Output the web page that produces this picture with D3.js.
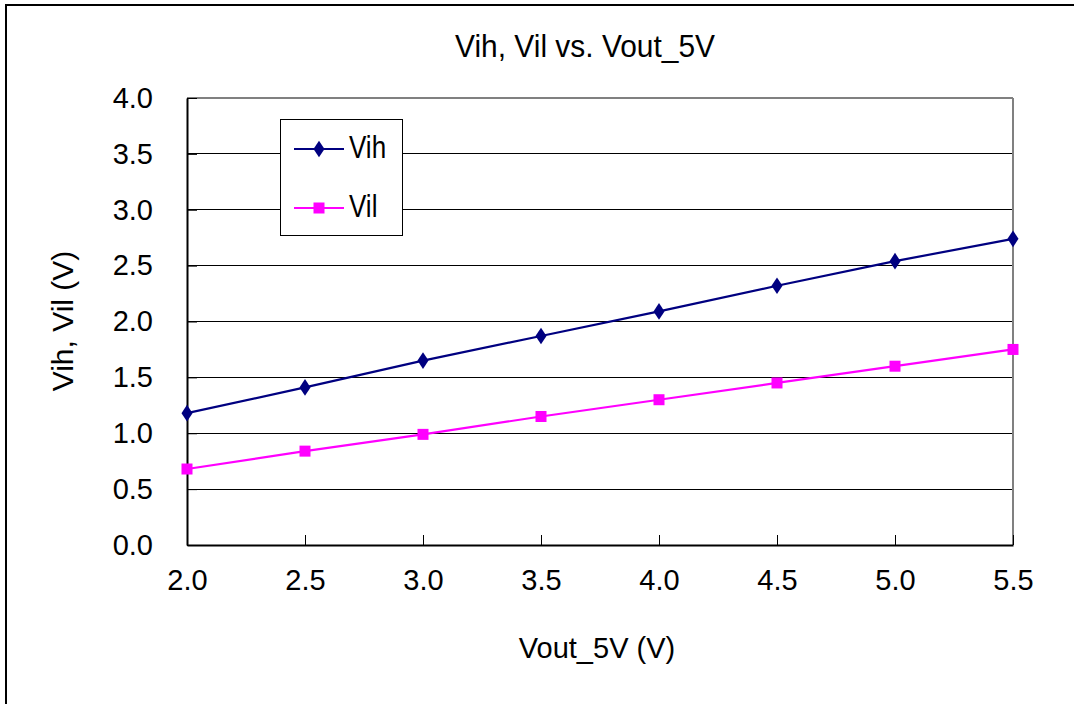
<!DOCTYPE html>
<html>
<head>
<meta charset="utf-8">
<script src="https://cdn.jsdelivr.net/npm/d3@7"></script>
<style>
  html, body { margin: 0; padding: 0; background: #fff; }
  svg { display: block; font-family: "Liberation Sans", Arial, sans-serif; }
</style>
</head>
<body>
<svg id="chart" width="1074" height="704"></svg>
<script>
const vout = [2.0, 2.5, 3.0, 3.5, 4.0, 4.5, 5.0, 5.5];
const vih = [1.18, 1.41, 1.65, 1.87, 2.09, 2.32, 2.54, 2.74];
const vil = [0.68, 0.84, 0.99, 1.15, 1.30, 1.45, 1.60, 1.75];
const xTicks = [2.0, 2.5, 3.0, 3.5, 4.0, 4.5, 5.0, 5.5];
const yTicks = [0.0, 0.5, 1.0, 1.5, 2.0, 2.5, 3.0, 3.5, 4.0];
const seriesNames = ["Vih", "Vil"];
const titleText = "Vih, Vil vs. Vout_5V";
const xTitle = "Vout_5V (V)";
const yTitle = "Vih, Vil (V)";

const svg = d3.select("#chart");
const L = 187, R = 1013, T = 98, B = 545;
const x = d3.scaleLinear().domain([2, 5.5]).range([L, R]);
const y = d3.scaleLinear().domain([0, 4]).range([B, T]);

// outer frame
svg.append("rect").attr("x", 6).attr("y", 5).attr("width", 1200).attr("height", 900)
  .attr("fill", "#fff").attr("stroke", "#000").attr("stroke-width", 2);

// gridlines
svg.append("g").selectAll("line").data(yTicks.filter(d => d > 0 && d < 4)).join("line")
  .attr("x1", L).attr("x2", R).attr("y1", d => y(d)).attr("y2", d => y(d))
  .attr("stroke", "#000").attr("stroke-width", 1).attr("shape-rendering", "crispEdges");

// top & right border grey
svg.append("line").attr("x1", L).attr("x2", R).attr("y1", T).attr("y2", T)
  .attr("stroke", "#808080").attr("stroke-width", 2).attr("shape-rendering", "crispEdges");
svg.append("line").attr("x1", R).attr("x2", R).attr("y1", T).attr("y2", B)
  .attr("stroke", "#808080").attr("stroke-width", 2).attr("shape-rendering", "crispEdges");

// axes
const xAxis = d3.axisBottom(x).tickValues(xTicks).tickFormat(d3.format(".1f")).tickSizeInner(-10).tickSizeOuter(0).tickPadding(24);
const gx = svg.append("g").attr("transform", `translate(0,${B})`).call(xAxis);
gx.select(".domain").attr("stroke", "#000").attr("stroke-width", 2);
gx.selectAll(".tick line").attr("stroke", "#000").attr("stroke-width", 1);
gx.selectAll(".tick text").attr("font-size", 29).attr("fill", "#000")
  .attr("font-family", "Liberation Sans, Arial, sans-serif");

const yAxis = d3.axisLeft(y).tickValues(yTicks).tickFormat(d3.format(".1f")).tickSizeInner(-10).tickSizeOuter(0).tickPadding(34);
const gy = svg.append("g").attr("transform", `translate(${L},0)`).call(yAxis);
gy.select(".domain").attr("stroke", "#000").attr("stroke-width", 2);
gy.selectAll(".tick line").attr("stroke", "#000").attr("stroke-width", 1);
gy.selectAll(".tick text").attr("font-size", 29).attr("fill", "#000")
  .attr("font-family", "Liberation Sans, Arial, sans-serif");

// lines
const line = d3.line().x((d, i) => x(vout[i])).y(d => y(d));
svg.append("path").datum(vih).attr("d", line).attr("fill", "none").attr("stroke", "#000080").attr("stroke-width", 2.2);
svg.append("path").datum(vil).attr("d", line).attr("fill", "none").attr("stroke", "#FF00FF").attr("stroke-width", 2.2);

// markers
const dsym = d3.symbol().type(d3.symbolDiamond).size(80);
svg.append("g").selectAll("path").data(vih).join("path")
  .attr("d", dsym).attr("transform", (d, i) => `translate(${x(vout[i])},${y(d)}) scale(1.15,1)`)
  .attr("fill", "#000080");
svg.append("g").selectAll("rect").data(vil).join("rect")
  .attr("x", (d, i) => x(vout[i]) - 5.5).attr("y", d => y(d) - 5.5)
  .attr("width", 11).attr("height", 11).attr("fill", "#FF00FF");

// legend
const lg = svg.append("g");
lg.append("rect").attr("x", 280.5).attr("y", 119.5).attr("width", 122).attr("height", 116)
  .attr("fill", "#fff").attr("stroke", "#000").attr("stroke-width", 1);
const legY = [149, 208];
const colors = ["#000080", "#FF00FF"];
seriesNames.forEach((name, i) => {
  lg.append("line").attr("x1", 294).attr("x2", 344).attr("y1", legY[i]).attr("y2", legY[i])
    .attr("stroke", colors[i]).attr("stroke-width", 2.2);
  if (i === 0) {
    lg.append("path").attr("d", dsym).attr("transform", `translate(319,${legY[i]}) scale(1.15,1)`).attr("fill", colors[i]);
  } else {
    lg.append("rect").attr("x", 313.5).attr("y", legY[i] - 5.5).attr("width", 11).attr("height", 11).attr("fill", colors[i]);
  }
  lg.append("text").attr("transform", `translate(349,${legY[i] + 9}) scale(1,1.2)`)
    .attr("font-size", 26).attr("fill", "#000").text(name);
});

// titles
svg.append("text").attr("transform", "translate(585,57) scale(1,1.1)")
  .attr("text-anchor", "middle").attr("font-size", 28).attr("fill", "#000")
  .attr("textLength", 260).attr("lengthAdjust", "spacingAndGlyphs").text(titleText);
svg.append("text").attr("x", 597).attr("y", 658).attr("text-anchor", "middle")
  .attr("font-size", 29).attr("fill", "#000").text(xTitle);
svg.append("text").attr("transform", "translate(73,321) rotate(-90)").attr("text-anchor", "middle")
  .attr("font-size", 30).attr("fill", "#000").text(yTitle);
</script>
</body>
</html>
